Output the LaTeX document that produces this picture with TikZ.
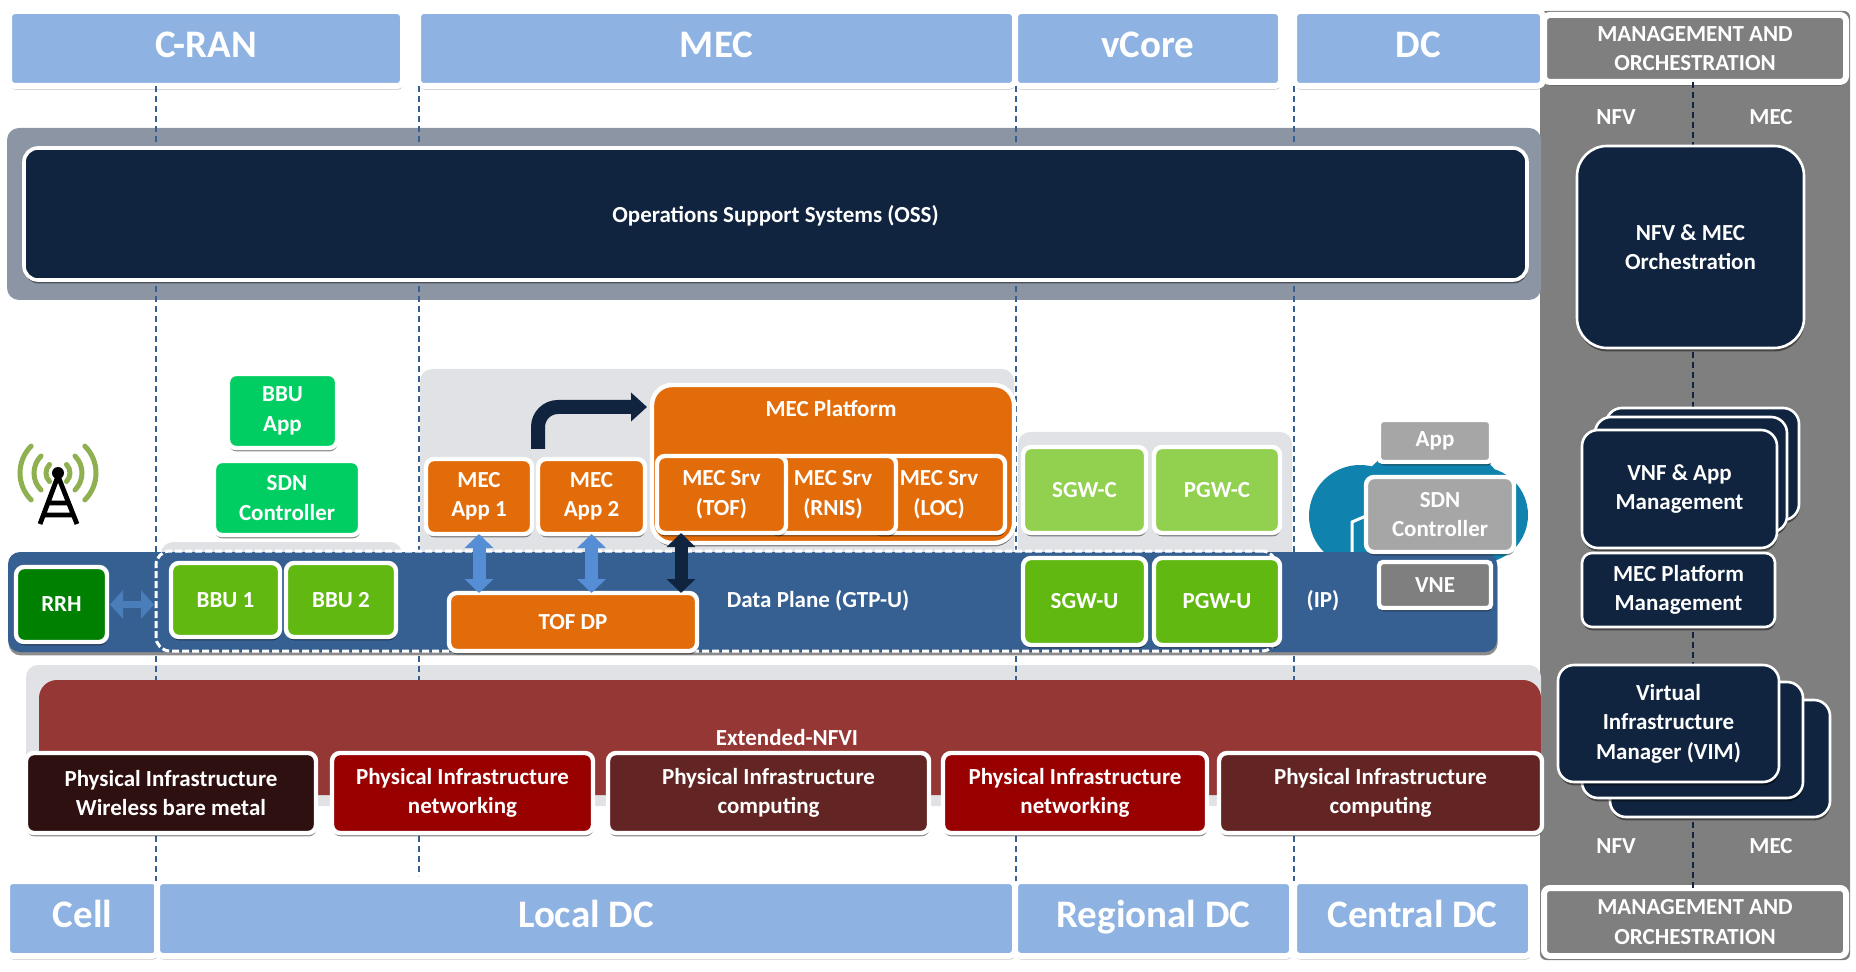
\documentclass[tikz,border=0pt]{standalone}
\usepackage{fontspec}
\setmainfont{Carlito}
\usetikzlibrary{arrows.meta, calc, positioning, shadows}
\definecolor{hdrblue}{HTML}{8EB2E1}
\definecolor{mgmtgray}{HTML}{7F7F7F}
\definecolor{navyb}{HTML}{10243F}
\definecolor{planeb}{HTML}{366092}
\definecolor{ossgray}{HTML}{8C95A3}
\definecolor{backg}{HTML}{E0E2E5}
\definecolor{orangeb}{HTML}{E36C0A}
\definecolor{greenA}{HTML}{00CE63}
\definecolor{greenB}{HTML}{60B810}
\definecolor{greenC}{HTML}{92D050}
\definecolor{greenD}{HTML}{008000}
\definecolor{redA}{HTML}{953735}
\definecolor{redB}{HTML}{990000}
\definecolor{redC}{HTML}{632523}
\definecolor{redD}{HTML}{2E1010}
\definecolor{cloudb}{HTML}{0F83AE}
\definecolor{arrowb}{HTML}{558ED5}
\definecolor{arrowc}{HTML}{4A7EBB}
\definecolor{greyA}{HTML}{A6A6A6}
\definecolor{waveg}{HTML}{8FB050}
\tikzset{
  xy/.style args={#1,#2,#3,#4}{at={({(#1+#3)/2},{(#2+#4)/2})},
    minimum width={(#3-#1)*0.5pt}, minimum height={(#4-#2)*0.5pt}},
  plain/.style={inner sep=0pt, outer sep=0pt, align=center, text=white,
    font=\fontsize{11.5}{14.7}\selectfont\bfseries},
  shade/.style={drop shadow={shadow xshift=0.3pt, shadow yshift=-1.7pt, fill=black, opacity=.45}},
  wbox/.style={plain, draw=white, line width=2.2pt, rounded corners=4pt, shade},
  hdr/.style={wbox, line width=3pt, rounded corners=3pt, fill=hdrblue, text height=13pt, text depth=4pt,
    font=\fontsize{19.5}{22}\selectfont\bfseries},
  mgmt/.style={wbox, line width=3pt, rounded corners=3pt, fill=mgmtgray},
  mbox/.style={wbox, fill=navyb, line width=1.3pt, rounded corners=8pt},
  back/.style={plain, fill=backg, rounded corners=6pt},
  label/.style={plain},
  vline/.style={draw=planeb, densely dashed, line width=0.6pt},
  biarrow/.style={line width=6.5pt, {Triangle[length=7pt,width=14pt]}-{Triangle[length=7pt,width=14pt]}},
}
\begin{document}
\begin{tikzpicture}[x=0.5pt,y=-0.5pt]
  \useasboundingbox (0,0) rectangle (1856,972);
  % management column
  \node[plain, fill=mgmtgray, rounded corners=3pt, xy={1540,11,1850,960}] (panel) {};
  % header and footer bars
  \node[hdr, xy={9,11,403,86}] (cran) {C-RAN};
  \node[hdr, xy={418,11,1015,86}] (mec) {MEC};
  \node[hdr, xy={1015,11,1281,86}] (vcore) {vCore};
  \node[hdr, xy={1294,11,1543,86}] (dc) {DC};
  \node[mgmt, xy={1544,15,1846,82}] (mgtop) {MANAGEMENT AND\\ORCHESTRATION};
  \node[hdr, xy={7,881,158,956}] (cellb) {Cell};
  \node[hdr, xy={157,881,1015,956}] (localb) {Local DC};
  \node[hdr, xy={1015,881,1292,956}] (regionb) {Regional DC};
  \node[hdr, xy={1294,881,1531,956}] (centralb) {Central DC};
  \node[mgmt, xy={1544,888,1846,956}] (mgbot) {MANAGEMENT AND\\ORCHESTRATION};
  % gray bands, under the dashed lines
  \node[plain, fill=ossgray, rounded corners=6pt, xy={7,128,1541,300}] (ossback) {};
  \node[back, xy={161,542,402,600}] (bbuback) {};
  \node[back, xy={420,369,1014,600}] (mecback) {};
  \node[back, xy={1018,432,1292,600}] (gwback) {};
  \node[back, xy={26,665,1541,806}] (nfviback) {};
  \coordinate (l1) at (156,86);
  \coordinate (l2) at (419,86);
  \coordinate (l2e) at (419,876);
  \coordinate (l3) at (1016,86);
  \coordinate (l4) at (1294,86);
  \coordinate (m1) at (1693,82);
  \draw[vline] (l1) -- (l1 |- cellb.north);
  \draw[vline] (l2) -- (l2e);
  \draw[vline] (l3) -- (l3 |- regionb.north);
  \draw[vline] (l4) -- (l4 |- centralb.north);
  \draw[vline, draw=navyb, line width=0.8pt] (m1) -- (m1 |- mgbot.north);
  \node[label] (nfvt) at (1616,117) {NFV};
  \node[label] (mect) at (1771,117) {MEC};
  \node[label] (nfvb) at (1616,846) {NFV};
  \node[label] (mecb) at (1771,846) {MEC};
  % OSS
  \node[wbox, line width=1.8pt, fill=navyb, rounded corners=7pt, text depth=0.5pt, xy={24,148,1527,280}] (oss) {Operations Support Systems (OSS)};
  \node[mbox, rounded corners=15pt, xy={1577,146,1804,348}] (orch) {NFV \& MEC\\Orchestration};
  % cloud
  \fill[cloudb] (1360,516) circle[radius=51];
  \fill[cloudb] (1432,490) ellipse[x radius=70, y radius=46];
  \fill[cloudb] (1480,515) circle[radius=48];
  \draw[white, line width=1.5pt] (1352,552) -- (1352,522) -- (1366,516);
  % data plane
  \node[plain, shade, fill=planeb, rounded corners=6pt, xy={8,552,1497,652}] (dplane) {};
  \draw[vline] (dplane.north -| l4) -- (dplane.south -| l4);
  \node[plain, draw=white, dash pattern=on 3.5pt off 1.5pt, line width=1.5pt, rounded corners=7pt, xy={156,551,1276,651}] (dashrect) {};
  \node[label] (dplabel) at (818,601) {Data Plane (GTP-U)};
  \node[label] (iplabel) at (1323,601) {(IP)};
  % antenna
  \foreach \r in {12,24,38}{
    \draw[waveg, line width=2.5pt, line cap=round] (58,473) ++(-45:\r) arc[start angle=-45, end angle=45, radius=\r];
    \draw[waveg, line width=2.5pt, line cap=round] (58,473) ++(135:\r) arc[start angle=135, end angle=225, radius=\r];
  }
  \draw[black, line width=2.4pt, line join=round] (40,524) -- (58,476) -- (77,524) (49,503) -- (68,503) (44,515) -- (73,515);
  \fill[black] (58,473) circle[radius=6];
  % C-RAN
  \node[wbox, fill=greenA, xy={228,374,337,448}] (bbuapp) {BBU\\App};
  \node[wbox, fill=greenA, xy={214,461,360,535}] (sdn) {SDN\\Controller};
  \node[wbox, fill=greenD, xy={16,567,107,642}] (rrh) {RRH};
  \node[wbox, fill=greenB, xy={171,563,280,637}] (bbua) {BBU 1};
  \node[wbox, fill=greenB, xy={286,563,396,637}] (bbub) {BBU 2};
  \draw[line width=3.5pt, draw=arrowc, {Triangle[length=6.5pt,width=14pt]}-{Triangle[length=6.5pt,width=14pt]}, shorten <=1.5pt, shorten >=1pt] (rrh) -- (dashrect.west |- rrh);
  % MEC
  \node[wbox, fill=orangeb, rounded corners=10pt, xy={652,385,1014,543}] (platform) {};
  \node[plain] (pltext) at (831,409) {MEC Platform};
  \node[wbox, fill=orangeb, xy={873,456,1005,533}] (srvloc) {MEC Srv\\(LOC)};
  \node[wbox, fill=orangeb, xy={770,456,896,533}] (srvrnis) {MEC Srv\\(RNIS)};
  \node[wbox, fill=orangeb, xy={657,456,786,533}] (srvtof) {MEC Srv\\(TOF)};
  \node[wbox, fill=orangeb, xy={426,459,532,534}] (appa) {MEC\\App 1};
  \node[wbox, fill=orangeb, xy={538,459,645,534}] (appb) {MEC\\App 2};
  \node[wbox, fill=orangeb, xy={449,593,697,651}] (tof) {TOF DP};
  \coordinate (pltin) at (652,407);
  \coordinate (tofup) at (681,593);
  \draw[navyb, line width=7pt, rounded corners=10pt, shorten <=5pt, shorten >=2.5pt, -{Triangle[length=8pt,width=14pt]}] (appb.north west) |- (pltin);
  \draw[biarrow, draw=arrowb] (appa.south) -- (appa.south |- tof.north);
  \draw[biarrow, draw=arrowb] (appb.south) -- (appb.south |- tof.north);
  \draw[biarrow, draw=navyb] (tofup |- srvtof.south) -- (tofup);
  % vCore
  \node[wbox, fill=greenC, xy={1023,447,1146,533}] (sgwc) {SGW-C};
  \node[wbox, fill=greenC, xy={1154,447,1280,533}] (pgwc) {PGW-C};
  \node[wbox, fill=greenB, xy={1023,558,1146,645}] (sgwu) {SGW-U};
  \node[wbox, fill=greenB, xy={1154,558,1280,645}] (pgwu) {PGW-U};
  % DC
  \node[wbox, fill=greyA, rounded corners=2pt, xy={1379,420,1491,462}] (dcapp) {App};
  \node[wbox, fill=greyA, xy={1366,477,1514,552}] (dcsdn) {SDN\\Controller};
  \node[wbox, fill=mgmtgray, rounded corners=2pt, xy={1379,562,1491,608}] (vne) {VNE};
  % NFVI
  \node[plain, fill=redA, rounded corners=9pt, xy={39,680,1541,795}] (nfvi) {};
  \node[plain] (nfvitext) at (787,738) {Extended-NFVI};
  \node[wbox, fill=redD, xy={26,753,316,833}] (phyw) {Physical Infrastructure\\Wireless bare metal};
  \node[wbox, fill=redB, xy={332,753,593,833}] (phya) {Physical Infrastructure\\networking};
  \node[wbox, fill=redC, xy={608,753,929,833}] (phyb) {Physical Infrastructure\\computing};
  \node[wbox, fill=redB, xy={943,753,1207,833}] (phyc) {Physical Infrastructure\\networking};
  \node[wbox, fill=redC, xy={1219,753,1542,833}] (phyd) {Physical Infrastructure\\computing};
  % management boxes
  \node[mbox, xy={1606,408,1799,520}] (vnfc) {};
  \node[mbox, xy={1595,417,1787,532}] (vnfb) {};
  \node[mbox, xy={1582,430,1777,548}] (vnfa) {VNF \& App\\Management};
  \node[mbox, rounded corners=5pt, xy={1582,553,1775,627}] (mecpm) {MEC Platform\\Management};
  \node[mbox, xy={1610,700,1830,817}] (vimc) {};
  \node[mbox, xy={1582,682,1803,798}] (vimb) {};
  \node[mbox, xy={1558,665,1779,782}] (vima) {Virtual\\Infrastructure\\Manager (VIM)};
\end{tikzpicture}
\end{document}
